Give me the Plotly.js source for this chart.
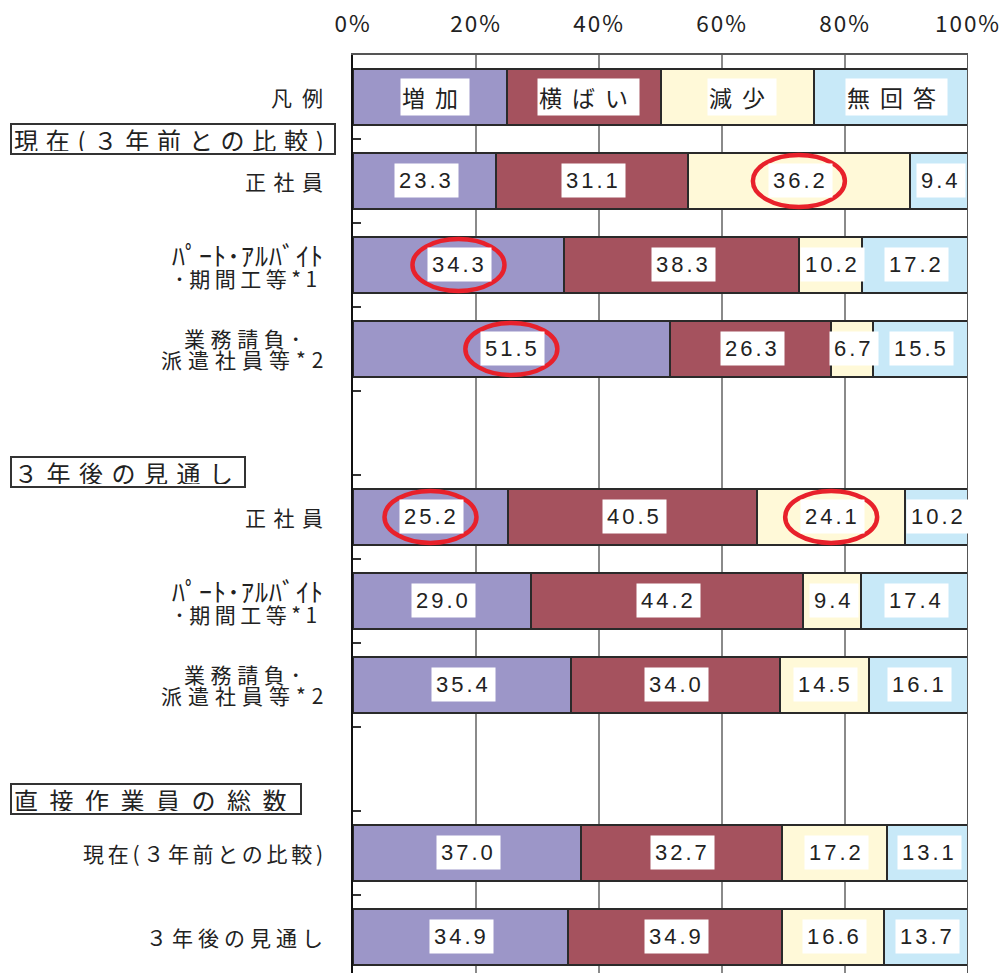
<!DOCTYPE html>
<html>
<head>
<meta charset="utf-8">
<script src="https://cdn.plot.ly/plotly-3.0.1.min.js"></script>
<style>
  body { margin: 0; background: #fff; }
  .xtick text { letter-spacing: 2px; }
</style>
</head>
<body>
<div id="chart" style="width:1007px;height:973px;"></div>
<script>
// Answer categories and their fills
const segments = ['増加', '横ばい', '減少', '無回答'];
const segmentColors = ['#9C96C8', '#A5525E', '#FFF9D8', '#C8E9F8'];
const legendShares = [25, 25, 25, 25];

// Row labels top to bottom; null marks an empty spacer row
const rowLabels = [
  '凡例',
  '正社員',
  'ﾊﾟｰﾄ･ｱﾙﾊﾞｲﾄ<br>･期間工等*1',
  '業務請負･<br>派遣社員等*2',
  null,
  '正社員',
  'ﾊﾟｰﾄ･ｱﾙﾊﾞｲﾄ<br>･期間工等*1',
  '業務請負･<br>派遣社員等*2',
  null,
  '現在(３年前との比較)',
  '３年後の見通し'
];

// Shares (%) per data row, in row order
const increase = [23.3, 34.3, 51.5, 25.2, 29.0, 35.4, 37.0, 34.9];
const flat     = [31.1, 38.3, 26.3, 40.5, 44.2, 34.0, 32.7, 34.9];
const decrease = [36.2, 10.2, 6.7, 24.1, 9.4, 14.5, 17.2, 16.6];
const noAnswer = [9.4, 17.2, 15.5, 10.2, 17.4, 16.1, 13.1, 13.7];

// Group headings and the data row each one opens
const groupHeaders = ['現在(３年前との比較)', '３年後の見通し', '直接作業員の総数'];
const groupFirstRow = [0, 3, 6];

// Highlighted cells: [data row, segment]
const circled = [[0, 2], [1, 0], [2, 0], [3, 0], [3, 2]];

const xTickVals = [0, 20, 40, 60, 80, 100];
const xTickText = ['0%', '20%', '40%', '60%', '80%', '100%'];

// ---- styling ----
const JP = '"Noto Sans CJK JP", "Noto Sans", sans-serif';
const NUM = '"Liberation Sans", Arial, sans-serif';
const ink = '#222';
// letter spacing per caption line: [first line, second line]
const rowLabelSpacing = [[10], [7.5], [1, 4.5], [5.6, 6], [], [7.5], [1, 4.5], [5.6, 6], [], [3.7], [5]];
const headerSpacing = [7.8, 8.5, 11.5];
const headerShift = [0, 3, 12];

const styled = (text, css) => `<span style="${css}">${text}</span>`;
const halfWidthKana = /[\uFF66-\uFF9F]/;

// ---- build ----
const series = [increase, flat, decrease, noAnswer];
const slots = rowLabels.map((l, i) => (l === null ? null : i)).filter(v => v !== null);
const legendSlot = slots[0];
const dataSlots = slots.slice(1);

const traces = segments.map((name, k) => ({
  type: 'bar',
  orientation: 'h',
  name: name,
  x: [legendShares[k]].concat(series[k]),
  y: [legendSlot].concat(dataSlots),
  width: 0.66,
  marker: { color: segmentColors[k], line: { color: '#2a2a2a', width: 2 } },
  hoverinfo: 'skip',
  showlegend: false
}));

const annotations = [];

// row captions left of the axis (multi-line ones centred on each other)
slots.forEach(i => {
  const lines = rowLabels[i].split('<br>');
  const gaps = rowLabelSpacing[i];
  const text = lines.map((line, n) =>
    halfWidthKana.test(line)
      ? styled(line, `font-size:26px;letter-spacing:${gaps[n]}px`)
      : styled(line, `font-size:21px;letter-spacing:${gaps[n]}px`)
  ).join('<br>');
  // the widest line sets the right edge; remove its trailing spacing
  const lead = lines.length > 1 && halfWidthKana.test(lines[0]) ? gaps[0] : gaps[gaps.length - 1];
  annotations.push({
    x: 0, xref: 'paper', xanchor: 'right', xshift: -28 + lead,
    y: i, yref: 'y', align: 'center',
    text: text, showarrow: false,
    font: { family: JP, size: 16.2, color: ink }
  });
});

// legend row captions
let acc = 0;
legendShares.forEach((v, k) => {
  annotations.push({
    x: acc + v / 2, y: legendSlot, xref: 'x', yref: 'y',
    text: styled(segments[k], 'letter-spacing:10px'), showarrow: false,
    font: { family: JP, size: 23, color: ink },
    bgcolor: '#ffffff', borderpad: 1, xshift: 5
  });
  acc += v;
});

// value labels
dataSlots.forEach((slot, r) => {
  let start = 0;
  series.forEach(s => {
    const v = s[r];
    annotations.push({
      x: start + v / 2, y: slot, xref: 'x', yref: 'y',
      text: styled(v.toFixed(1), 'letter-spacing:3px'), showarrow: false,
      font: { family: NUM, size: 22, color: ink },
      bgcolor: '#ffffff', borderpad: 4, xshift: 1.5
    });
    start += v;
  });
});

// group headings in the left margin
groupHeaders.forEach((h, g) => {
  annotations.push({
    x: -0.5577, xanchor: 'left', xref: 'paper',
    y: dataSlots[groupFirstRow[g]] - 0.5, yref: 'y', yshift: headerShift[g],
    text: styled(h, `letter-spacing:${headerSpacing[g]}px`), showarrow: false,
    font: { family: JP, size: 24, color: ink },
    height: 24,
    bgcolor: '#ffffff', bordercolor: '#333', borderwidth: 2, borderpad: 2
  });
});

// red rings around highlighted cells
const shapes = circled.map(([r, k]) => {
  let start = 0;
  for (let j = 0; j < k; j++) start += series[j][r];
  return {
    type: 'circle', xref: 'x', yref: 'y', layer: 'above',
    xsizemode: 'pixel', ysizemode: 'pixel',
    xanchor: start + series[k][r] / 2, yanchor: dataSlots[r],
    x0: -46, x1: 46, y0: -26, y1: 26,
    line: { color: '#E8212B', width: 4.5 }
  };
});

// right edge of the frame
shapes.push({
  type: 'line', xref: 'x', yref: 'paper', x0: 100, x1: 100, y0: 0, y1: 1,
  line: { color: '#555', width: 2 }, layer: 'above'
});

const layout = {
  width: 1007, height: 973,
  margin: { l: 353, r: 39, t: 55, b: 0 },
  paper_bgcolor: '#fff', plot_bgcolor: '#fff',
  barmode: 'stack',
  bargap: 0,
  showlegend: false,
  xaxis: {
    side: 'top', range: [0, 100], fixedrange: true,
    tickmode: 'array', tickvals: xTickVals, ticktext: xTickText,
    tickfont: { family: JP, size: 22.5, color: ink },
    ticks: '', ticklabelstandoff: 12,
    showgrid: true, gridcolor: '#8a8a8a', gridwidth: 1.5,
    zeroline: false, showline: true, linecolor: '#555', linewidth: 2
  },
  yaxis: {
    range: [10.43, -0.5], fixedrange: true,
    tickmode: 'array', tickvals: slots, showticklabels: false,
    ticks: '',
    showgrid: false, zeroline: false,
    showline: true, linecolor: '#111', linewidth: 2,
    minor: {
      tickmode: 'array',
      tickvals: rowLabels.slice(1).map((_, i) => i + 0.5),
      ticks: 'inside', ticklen: 8, tickcolor: '#333', tickwidth: 1.5,
      showgrid: false
    }
  },
  annotations: annotations,
  shapes: shapes
};

Plotly.newPlot('chart', traces, layout, { staticPlot: true, displayModeBar: false });
</script>
</body>
</html>
